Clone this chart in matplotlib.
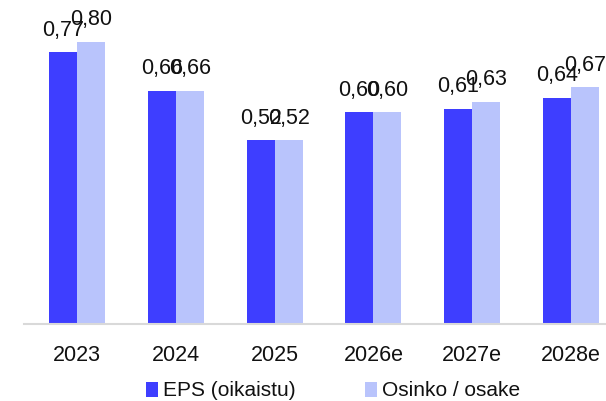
import numpy as np
import matplotlib
matplotlib.use('Agg')
import matplotlib.pyplot as plt

# data
years = ['2023', '2024', '2025', '2026e', '2027e', '2028e']
eps = [0.77, 0.66, 0.52, 0.60, 0.61, 0.64]
dividend = [0.80, 0.66, 0.52, 0.60, 0.63, 0.67]
series_names = ['EPS (oikaistu)', 'Osinko / osake']

EPS_COL = '#3E3EFF'
DIV_COL = '#B9C4FC'
FONT = 'Liberation Sans'

W, H = 606, 401
fig = plt.figure(figsize=(W / 100, H / 100), dpi=100)
# axes placed in pixel terms: x 24..606, baseline at y=324
ax = fig.add_axes([24 / W, (H - 324) / H, 582 / W, 317.7 / H])

x = np.arange(len(years))
bw = 0.283
b1 = ax.bar(x - bw / 2, eps, bw, color=EPS_COL, label=series_names[0])
b2 = ax.bar(x + bw / 2, dividend, bw, color=DIV_COL, label=series_names[1])

# value labels (they overlap in the original too)
for bars, vals in ((b1, eps), (b2, dividend)):
    for rect, v in zip(bars, vals):
        ax.annotate(f'{v:.2f}'.replace('.', ','),
                    (rect.get_x() + rect.get_width() / 2, v),
                    xytext=(0, 12), textcoords='offset points',
                    ha='center', va='baseline', fontsize=15.5,
                    family=FONT, color='#111111')

ax.set_xlim(-0.536, 5.354)
ax.set_ylim(0, 0.9)
ax.set_xticks(x)
ax.set_xticklabels(years, family=FONT, fontsize=15.5, color='#111111')
ax.tick_params(axis='x', length=0, pad=15)
ax.set_yticks([])
for s in ('top', 'right', 'left'):
    ax.spines[s].set_visible(False)
ax.spines['bottom'].set_color('#d9d9d9')
ax.spines['bottom'].set_linewidth(1.5)

fig.legend(handles=[b1, b2], labels=series_names, loc='center',
           bbox_to_anchor=(333 / W, 10 / H), ncol=2, frameon=False,
           prop={'family': FONT, 'size': 15}, handlelength=0.6,
           handleheight=0.7, handletextpad=0.25, columnspacing=3.3,
           borderpad=0, borderaxespad=0, labelcolor='#111111')

fig.savefig('out.png', dpi=100, facecolor='white')
